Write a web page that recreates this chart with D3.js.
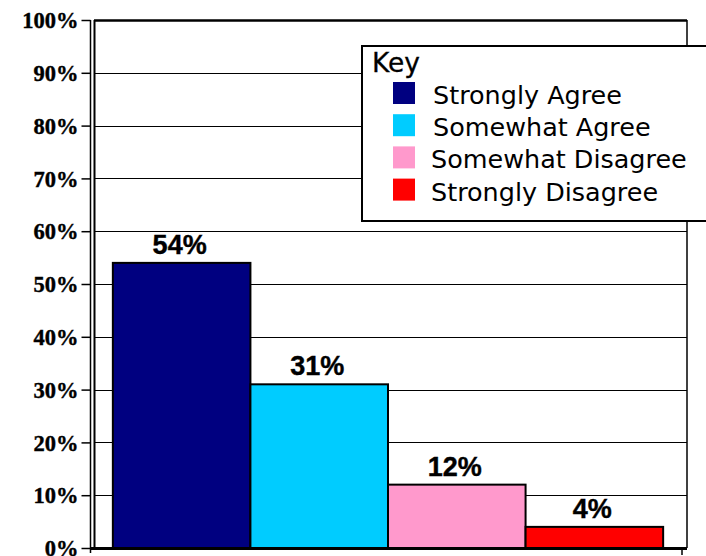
<!DOCTYPE html>
<html><head><meta charset="utf-8">
<script src="https://cdn.jsdelivr.net/npm/d3@7"></script>
<style>body{margin:0;background:#fff}svg{display:block}</style>
</head><body>
<script>
const categories = ["Strongly Agree","Somewhat Agree","Somewhat Disagree","Strongly Disagree"];
const values = [54, 31, 12, 4];
const colors = ["#000080","#00CCFF","#FF99CC","#FF0000"];
const yTicks = [0,10,20,30,40,50,60,70,80,90,100];
const legendTitle = "Key";

const W = 706, H = 556;
const svg = d3.select("body").append("svg").attr("width", W).attr("height", H);

const y = d3.scaleLinear().domain([0,100]).range([548,20]);
const x = d3.scaleBand().domain(categories).range([94,682]).paddingInner(0).paddingOuter(0.137);

// gridlines
svg.append("g").selectAll("line").data(yTicks.filter(d=>d>0)).join("line")
  .attr("x1",94).attr("x2",687).attr("y1",d=>Math.round(y(d))+0.5).attr("y2",d=>Math.round(y(d))+0.5)
  .attr("stroke","#000").attr("stroke-width",d=>d===100?2.5:1.2);
// right frame
svg.append("line").attr("x1",687).attr("x2",687).attr("y1",y(100)).attr("y2",548).attr("stroke","#000").attr("stroke-width",1.5);
// inner left frame
svg.append("line").attr("x1",94.5).attr("x2",94.5).attr("y1",y(100)).attr("y2",548).attr("stroke","#000").attr("stroke-width",2);

// y axis
const yAxis = d3.axisLeft(y).tickValues(yTicks).tickSize(9).tickSizeOuter(0).tickFormat(d=>d+"%");
const gy = svg.append("g").attr("transform","translate(90.5,0)").call(yAxis);
gy.select(".domain").attr("stroke","#000").attr("stroke-width",1.5).attr("d","M0,"+y(100)+"V553");
gy.selectAll(".tick line").attr("stroke","#000").attr("stroke-width",1.5);
gy.selectAll(".tick text").attr("x",-12).attr("dy","0.34em")
  .style("font-family","'Liberation Serif','Times New Roman',serif").style("font-weight","bold").style("font-size","22.5px")
  .attr("fill","#000").attr("stroke","#000").attr("stroke-width",0.4);

// bars
svg.append("g").selectAll("rect").data(values).join("rect")
  .attr("x",(d,i)=>x(categories[i])).attr("y",d=>y(d))
  .attr("width",x.bandwidth()).attr("height",d=>y(0)-y(d))
  .attr("fill",(d,i)=>colors[i]).attr("stroke","#000").attr("stroke-width",2);

// value labels
svg.append("g").selectAll("text").data(values).join("text")
  .attr("x",(d,i)=>x(categories[i])+x.bandwidth()/2 - 2).attr("y",d=>y(d)-9)
  .attr("text-anchor","middle")
  .style("font-family","'Liberation Sans',Arial,sans-serif").style("font-weight","bold").style("font-size","27px")
  .attr("stroke","#000").attr("stroke-width",0.4)
  .text(d=>d+"%");

// x axis line
svg.append("line").attr("x1",90).attr("x2",687).attr("y1",548.5).attr("y2",548.5).attr("stroke","#000").attr("stroke-width",3);
svg.append("line").attr("x1",682).attr("x2",682).attr("y1",548).attr("y2",555).attr("stroke","#000").attr("stroke-width",1.5);

// legend
const lg = svg.append("g");
lg.append("rect").attr("x",362).attr("y",46).attr("width",360).attr("height",175).attr("fill","#fff").attr("stroke","#000").attr("stroke-width",2);
const lfont = "'DejaVu Sans',Verdana,sans-serif";
const kt = lg.append("text").attr("x",372).attr("y",72).style("font-family",lfont).style("font-size","24px")
  .attr("stroke","#000").attr("stroke-width",0.3).text(legendTitle);
const rows = lg.selectAll("g.row").data(categories).join("g").attr("class","row")
  .attr("transform",(d,i)=>`translate(0,${i*32.2})`);
rows.append("rect").attr("x",393).attr("y",82).attr("width",22).attr("height",22).attr("fill",(d,i)=>colors[i]);
const lt = rows.append("text").attr("x",(d,i)=>i<2?433:431).attr("y",104).style("font-family",lfont).style("font-size","24px").text(d=>d);
// fit font size so "Strongly Agree" spans ~189px
const w0 = lt.nodes()[0].getComputedTextLength();
const fs = 24*189/w0;
lt.style("font-size",fs+"px");
const kw = kt.node().getComputedTextLength();
kt.style("font-size",(24*48/kw)+"px");
</script>
</body></html>
